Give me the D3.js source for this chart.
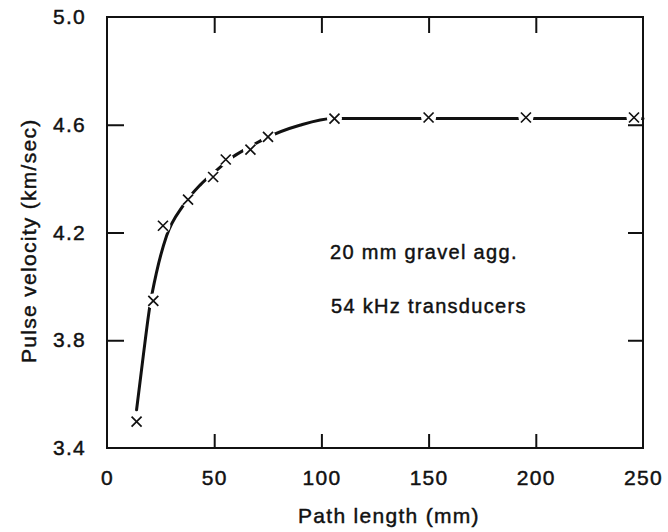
<!DOCTYPE html>
<html><head><meta charset="utf-8">
<script src="https://cdn.jsdelivr.net/npm/d3@7"></script>
<style>
body{margin:0;background:#fff}
svg text{font-family:"Liberation Sans",Arial,Helvetica,sans-serif;fill:#111;letter-spacing:1.3px;stroke:#111;stroke-width:0.45px}
</style>
</head><body>
<svg id="chart" width="668" height="532"></svg>
<script>
// ---- data ----
const xTicks = [0, 50, 100, 150, 200, 250];
const yTicks = [3.4, 3.8, 4.2, 4.6, 5.0];
const xInnerTicks = [50, 100, 150, 200];
const yInnerTicks = [3.8, 4.2, 4.6];
const pointX = [13.8, 21.6, 26.1, 37.8, 49.5, 55.4, 66.9, 75.1, 106.1, 150, 195.4, 245.8];
const pointY = [3.498, 3.946, 4.225, 4.322, 4.406, 4.471, 4.508, 4.555, 4.623, 4.627, 4.627, 4.627];
const curveX = [13.8, 16.9, 20.0, 23.1, 27.8, 35.5, 43.3, 51.1, 58.8, 66.6, 74.3, 89.9, 105.4, 250];
const curveY = [3.542, 3.741, 3.927, 4.052, 4.188, 4.300, 4.375, 4.431, 4.481, 4.518, 4.551, 4.598, 4.623, 4.623];
const xTitle = "Path length (mm)";
const yTitle = "Pulse velocity (km/sec)";
const notes = ["20 mm gravel agg.", "54 kHz transducers"];

// ---- layout ----
const svg = d3.select("#chart");
const x = d3.scaleLinear().domain([0, 250]).range([107, 643]);
const y = d3.scaleLinear().domain([3.4, 5.0]).range([448, 17]);
const ink = "#111";
const fs = "21px";

// curve
const line = d3.line().x(d => x(d[0])).y(d => y(d[1])).curve(d3.curveMonotoneX);
svg.append("path")
  .datum(curveX.map((v, i) => [v, curveY[i]]))
  .attr("d", line)
  .attr("fill", "none").attr("stroke", ink).attr("stroke-width", 3)
  .attr("stroke-linecap", "round");

const pts = pointX.map((v, i) => [v, pointY[i]]);
// white gaps around markers
svg.append("g").selectAll("circle").data(pts).join("circle")
  .attr("cx", d => x(d[0])).attr("cy", d => y(d[1])).attr("r", 7.5).attr("fill", "#fff");

// frame
svg.append("rect")
  .attr("x", x.range()[0]).attr("y", y.range()[1])
  .attr("width", x.range()[1] - x.range()[0]).attr("height", y.range()[0] - y.range()[1])
  .attr("fill", "none").attr("stroke", ink).attr("stroke-width", 2);

function styleAxis(g) {
  g.select(".domain").remove();
  g.selectAll(".tick line").attr("stroke", ink).attr("stroke-width", 2);
  g.selectAll(".tick text").attr("fill", ink).style("font-size", fs);
}

// bottom axis with labels
svg.append("g").attr("transform", `translate(0,${y.range()[0]})`)
  .call(d3.axisBottom(x).tickValues(xTicks).tickSize(0).tickPadding(22).tickFormat(d3.format("d")))
  .call(styleAxis);
svg.append("g").attr("transform", `translate(0,${y.range()[0]})`)
  .call(d3.axisBottom(x).tickValues(xInnerTicks).tickSize(-14).tickFormat(""))
  .call(styleAxis);
// top axis
svg.append("g").attr("transform", `translate(0,${y.range()[1]})`)
  .call(d3.axisTop(x).tickValues(xInnerTicks).tickSize(-16).tickFormat(""))
  .call(styleAxis);
// left axis with labels
svg.append("g").attr("transform", `translate(${x.range()[0]},0)`)
  .call(d3.axisLeft(y).tickValues(yTicks).tickSize(0).tickPadding(21).tickFormat(d3.format(".1f")))
  .call(styleAxis);
svg.append("g").attr("transform", `translate(${x.range()[0]},0)`)
  .call(d3.axisLeft(y).tickValues(yInnerTicks).tickSize(-17).tickFormat(""))
  .call(styleAxis);
// right axis
svg.append("g").attr("transform", `translate(${x.range()[1]},0)`)
  .call(d3.axisRight(y).tickValues(yInnerTicks).tickSize(-15).tickFormat(""))
  .call(styleAxis);

// X markers
const s = 5;
svg.append("g").selectAll("path").data(pts).join("path")
  .attr("d", d => {
    const cx = x(d[0]), cy = y(d[1]);
    return `M${cx - s},${cy - s}L${cx + s},${cy + s}M${cx - s},${cy + s}L${cx + s},${cy - s}`;
  })
  .attr("stroke", ink).attr("stroke-width", 1.7).attr("fill", "none");

// titles
svg.append("text").attr("x", 298).attr("y", 523).style("font-size", fs).text(xTitle);
svg.append("text").attr("transform", "translate(36,363) rotate(-90)").style("font-size", fs).text(yTitle);

// annotations
svg.append("text").attr("x", 330).attr("y", 259).style("font-size", "20px").text(notes[0]);
svg.append("text").attr("x", 331).attr("y", 313).style("font-size", "20px").text(notes[1]);
</script>
</body></html>
